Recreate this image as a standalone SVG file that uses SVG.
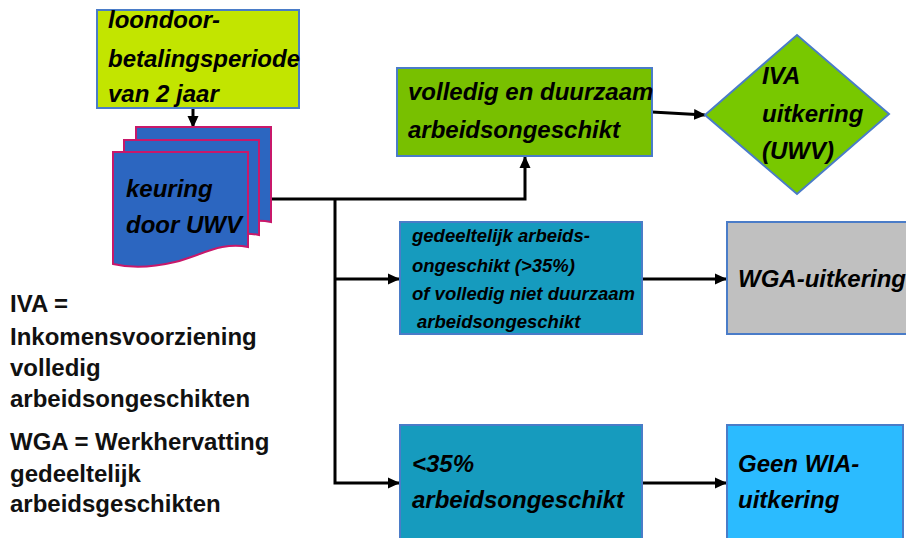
<svg xmlns="http://www.w3.org/2000/svg" width="906" height="538" viewBox="0 0 906 538">
<defs>
<marker id="ah" markerUnits="userSpaceOnUse" markerWidth="12" markerHeight="12" viewBox="0 0 12 12" refX="11" refY="6" orient="auto">
<path d="M0,0.5 L12,6 L0,11.5 Z" fill="#000"/>
</marker>
<path id="doc" d="M113,152 H248 V247 C222,241 200,256 175,262 C150,268 130,268 113,264 Z"/>
</defs>
<style>
.box{stroke:#4A7CC8;stroke-width:2}
.t{font-family:"Liberation Sans",Arial,sans-serif;font-weight:bold;font-style:italic;font-size:24px;fill:#000}
.s{font-size:18.5px}
.leg{font-family:"Liberation Sans",Arial,sans-serif;font-weight:bold;font-size:24px;fill:#111}
.c{fill:none;stroke:#000;stroke-width:3}
.doc{fill:#2C66C0;stroke:#C8186A;stroke-width:2}
</style>
<rect width="906" height="538" fill="#fff"/>

<g id="connectors">
<line class="c" x1="193" y1="108" x2="193" y2="127" stroke-width="2.5" marker-end="url(#ah)"/>
<polyline class="c" points="270,199 525,199 525,157" marker-end="url(#ah)"/>
<polyline class="c" points="335,199 335,483 399,483" marker-end="url(#ah)"/>
<line class="c" x1="335" y1="279" x2="399" y2="279" marker-end="url(#ah)"/>
<line class="c" x1="652" y1="112" x2="705" y2="115" stroke-width="2.5" marker-end="url(#ah)"/>
<line class="c" x1="642" y1="279" x2="726" y2="279" marker-end="url(#ah)"/>
<line class="c" x1="642" y1="483" x2="726" y2="483" marker-end="url(#ah)"/>
</g>

<g id="loondoor">
<rect class="box" x="97" y="10" width="202" height="98" fill="#C2E500"/>
<text class="t" x="108" y="28">loondoor-</text>
<text class="t" x="108" y="67">betalingsperiode</text>
<text class="t" x="108" y="102">van 2 jaar</text>
</g>

<g id="keuring">
<use href="#doc" class="doc" transform="translate(23,-25)"/>
<use href="#doc" class="doc" transform="translate(11,-12)"/>
<use href="#doc" class="doc"/>
<text class="t" x="126" y="197">keuring</text>
<text class="t" x="126" y="233">door UWV</text>
</g>

<g id="volledig">
<rect class="box" x="397" y="68" width="255" height="88" fill="#78C000"/>
<text class="t" x="408" y="100">volledig en duurzaam</text>
<text class="t" x="408" y="138">arbeidsongeschikt</text>
</g>

<g id="iva">
<polygon class="box" points="705,115 797,35 889,114 797,194" fill="#78C800"/>
<text class="t" x="762" y="84">IVA</text>
<text class="t" x="762" y="122">uitkering</text>
<text class="t" x="762" y="159">(UWV)</text>
</g>

<g id="gedeeltelijk">
<rect class="box" x="400" y="222" width="242" height="112" fill="#169BBE"/>
<text class="t s" x="412" y="242">gedeeltelijk arbeids-</text>
<text class="t s" x="412" y="272">ongeschikt (&gt;35%)</text>
<text class="t s" x="412" y="300">of volledig niet duurzaam</text>
<text class="t s" x="417" y="328">arbeidsongeschikt</text>
</g>

<g id="wga">
<rect class="box" x="727" y="222" width="190" height="112" fill="#C0C0C0"/>
<text class="t" x="738" y="287">WGA-uitkering</text>
</g>

<g id="lt35">
<rect class="box" x="400" y="425" width="242" height="125" fill="#169BBE"/>
<text class="t" x="412" y="472">&lt;35%</text>
<text class="t" x="412" y="508">arbeidsongeschikt</text>
</g>

<g id="geenwia">
<rect class="box" x="727" y="425" width="176" height="125" fill="#2BBBFF"/>
<text class="t" x="738" y="472">Geen WIA-</text>
<text class="t" x="738" y="508">uitkering</text>
</g>

<g id="legend">
<text class="leg" x="10" y="312">IVA =</text>
<text class="leg" x="10" y="345">Inkomensvoorziening</text>
<text class="leg" x="10" y="376">volledig</text>
<text class="leg" x="10" y="407">arbeidsongeschikten</text>
<text class="leg" x="10" y="450">WGA = Werkhervatting</text>
<text class="leg" x="10" y="482">gedeeltelijk</text>
<text class="leg" x="10" y="512">arbeidsgeschikten</text>
</g>
</svg>
